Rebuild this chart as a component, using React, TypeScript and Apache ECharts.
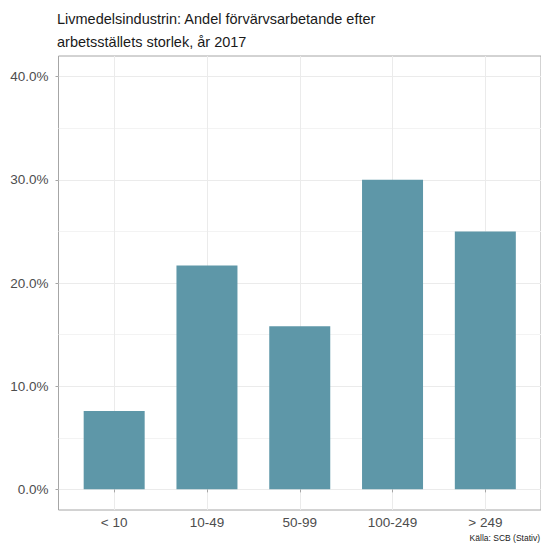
import React, { useEffect, useRef } from "react";
import * as echarts from "echarts";

const categories = ["< 10", "10-49", "50-99", "100-249", "> 249"];
const shares = [7.6, 21.7, 15.8, 30.0, 25.0];
const majorTicks = [0, 10, 20, 30, 40];
const minorTicks = [5, 15, 25, 35];
const categoryPositions = [1, 2, 3, 4, 5];
const titleText = "Livmedelsindustrin: Andel förvärvsarbetande efter\narbetsställets storlek, år 2017";
const captionText = "Källa: SCB (Stativ)";

export default function App() {
  const ref = useRef<HTMLDivElement>(null);
  useEffect(() => {
    if (!ref.current) return;
    const chart = echarts.init(ref.current, null, { renderer: "svg" });
    const font = "Liberation Sans, Arial, Helvetica, sans-serif";
    chart.setOption({
      animation: false,
      title: [
        {
          text: titleText,
          left: 57,
          top: 7,
          padding: 0,
          textStyle: { fontFamily: font, fontSize: 14.5, fontWeight: "normal", color: "#1a1a1a", lineHeight: 23 },
        },
        {
          text: captionText,
          right: 1,
          bottom: 1,
          padding: 0,
          textStyle: { fontFamily: font, fontSize: 8.5, fontWeight: "normal", color: "#1a1a1a" },
        },
      ],
      grid: {
        left: 58.5,
        right: -3,
        top: 56,
        bottom: 33,
        show: true,
        borderColor: "#a6a6a6",
        borderWidth: 1,
        backgroundColor: "transparent",
      },
      xAxis: {
        type: "value",
        min: 0.4,
        max: 5.6,
        axisLine: { show: false },
        axisTick: { show: true, customValues: categoryPositions, length: 3, lineStyle: { color: "#a6a6a6" } },
        axisLabel: {
          customValues: categoryPositions,
          formatter: (v: number) => categories[Math.round(v) - 1] ?? "",
          fontFamily: font,
          fontSize: 13.5,
          color: "#4d4d4d",
          margin: 5,
        },
        splitLine: { show: true, lineStyle: { color: "#ebebeb", width: 1 } },
      },
      yAxis: [
        {
          type: "value",
          min: -2,
          max: 42,
          axisLine: { show: false },
          axisTick: { show: true, customValues: majorTicks, length: 3, lineStyle: { color: "#a6a6a6" } },
          axisLabel: {
            customValues: majorTicks,
            formatter: (v: number) => v.toFixed(1) + "%",
            fontFamily: font,
            fontSize: 13.5,
            color: "#4d4d4d",
            margin: 10,
          },
          splitLine: { show: true, lineStyle: { color: "#ebebeb", width: 1 } },
        },
        {
          type: "value",
          min: -2,
          max: 42,
          position: "left",
          axisLine: { show: false },
          axisTick: { show: false, customValues: minorTicks },
          axisLabel: { show: false, customValues: minorTicks },
          splitLine: { show: true, lineStyle: { color: "#f3f3f3", width: 1 } },
        },
      ],
      series: [
        {
          type: "bar",
          xAxisIndex: 0,
          yAxisIndex: 0,
          barWidth: 61,
          itemStyle: { color: "#5e97a8" },
          data: shares.map((v, i) => [categoryPositions[i], v]),
          z: 5,
        },
      ],
    });
    return () => chart.dispose();
  }, []);
  return <div ref={ref} style={{ position: "fixed", left: 0, top: 0, width: 541, height: 543, background: "#fff" }} />;
}
